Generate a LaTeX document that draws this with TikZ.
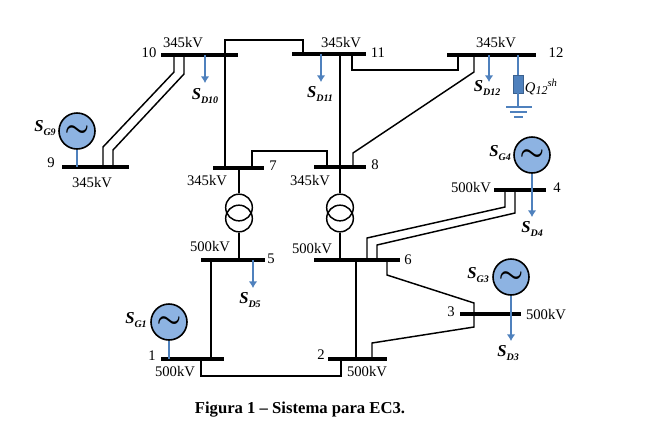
\documentclass[tikz,border=0pt]{standalone}
\usepackage{fontspec}
\setmainfont{Liberation Serif}
\usetikzlibrary{arrows.meta}
\definecolor{loadblue}{HTML}{4F81BD}
\definecolor{genblue}{HTML}{8DB3E2}
\newcommand{\pname}[1]{{\fontsize{12.5}{14}\selectfont\bfseries\itshape S}\raisebox{-2.5pt}{\fontsize{7.5}{9}\selectfont\bfseries\itshape #1}}
\tikzset{
    bus/.style={rectangle,fill=black,inner sep=0pt,minimum height=3pt},
    net/.style={line width=1.1pt,line join=miter},
    feed/.style={line width=1.2pt,color=loadblue},
    gen/.style={circle,draw=black,line width=1.2pt,fill=genblue,inner sep=0pt,minimum size=27pt},
    trafo/.style={circle,draw=black,line width=1.1pt,inner sep=0pt,minimum size=20pt},
    lbl/.style={font=\fontsize{11}{13}\selectfont,inner sep=0pt},
}
\begin{document}
\begin{tikzpicture}[x=0.75pt,y=-0.75pt,>={Latex[length=5pt,width=6.5pt]}]
    \useasboundingbox (0,0) rectangle (648,433);

    % the bars
    \foreach \name/\xa/\xb/\y in {
        b1/161/224/359, b2/328/387/359, b3/460/521/314, b4/494/546/190,
        b5/201/265/260, b6/314/400/260, b7/213/264/168, b8/314/366/167,
        b9/62/129/167, b10/161/238/55, b11/292/366/54, b12/447/536/55}
        \node[bus,minimum width={(\xb-\xa)*0.75pt}] (\name) at ({(\xa+\xb)/2},\y) {};

    % the transformers
    \foreach \name/\x/\y in {t7/239/207.5, t5/239/218.5, t8/340/207.5, t6/340/218.5}
        \node[trafo] (\name) at (\x,\y) {};

    % the generators
    \foreach \name/\x/\y in {g9/77/131, g4/532/155, g3/511/277, g1/169/322}
        \node[gen] (\name) at (\x,\y) {{\huge\boldmath$\sim$}};

    % the lines between the bars
    \draw[net] (174,0 |- b10) -- (174,72) -- (103,147) -- (103,0 |- b9);
    \draw[net] (184,0 |- b10) -- (184,74) -- (113,150) -- (113,0 |- b9);
    \draw[net] (225,0 |- b7) -- (225,40) -- (303,40) -- (303,0 |- b11);
    \draw[net] (252,0 |- b7) -- (252,151) -- (327,151) -- (327,0 |- b8);
    \draw[net] (340,0 |- b11) -- (340,0 |- b8);
    \draw[net] (352,0 |- b11) -- (352,70) -- (458,70) -- (458,0 |- b12);
    \draw[net] (474,0 |- b12) -- (474,72) -- (353,153) -- (353,0 |- b8);
    \draw[net] (211,0 |- b5) -- (211,0 |- b1);
    \draw[net] (201,0 |- b1) -- (201,376) -- (341,376) -- (341,0 |- b2);
    \draw[net] (356,0 |- b6) -- (356,0 |- b2);
    \draw[net] (505,0 |- b4) -- (505,207) -- (367,238) -- (367,0 |- b6);
    \draw[net] (515,0 |- b4) -- (515,213) -- (377,245) -- (377,0 |- b6);
    \draw[net] (387,0 |- b6) -- (387,275) -- (474,303) -- (474,0 |- b3);
    \draw[net] (474,0 |- b3) -- (474,327) -- (372,343) -- (372,0 |- b2);

    % bars to transformers
    \draw[net] (t7 |- b7) -- (t7.north);
    \draw[net] (t5.south) -- (t5 |- b5);
    \draw[net] (t8 |- b8) -- (t8.north);
    \draw[net] (t6.south) -- (t6 |- b6);

    % the loads
    \foreach \name/\bar/\x/\y in {d10/b10/205/83, d11/b11/321/82, d12/b12/489/82,
        d5/b5/253/288, d4/b4/532/217, d3/b3/511/341}{
        \coordinate (\name) at (\x,\y);
        \draw[feed,->] (\name |- \bar) -- (\name);
    }
    % generators to bars
    \draw[feed] (g9.south) -- (g9 |- b9);
    \draw[feed] (g1.south) -- (g1 |- b1);
    \draw[feed] (g4.south) -- (g4 |- b4);
    \draw[feed] (g3.south) -- (g3 |- b3);

    % the shunt at bar 12
    \node[rectangle,draw=loadblue!75!black,fill=loadblue,inner sep=0pt,minimum width=7.5pt,minimum height=13.5pt] (q12) at (518,84) {};
    \coordinate (e1) at (518,107);
    \draw[feed] (q12 |- b12) -- (q12.north);
    \draw[feed] (q12.south) -- (e1);
    \draw[feed] (506,107) -- (532,107);
    \draw[feed] (510,112) -- (527,112);
    \draw[feed] (514,117) -- (523,117);

    % voltages and bar numbers
    \foreach \name/\x/\y/\txt in {
        v10/183/43/345kV, v9/92/183/345kV, v7/207/181/345kV, v8/310/181/345kV,
        v11/341/43/345kV, v12/496/43/345kV, v4/471/188/500kV, v6/312/249/500kV,
        v5/210/247/500kV, v1/175/372/500kV, v2/367/372/500kV, v3/546/315/500kV,
        n1/152/356/1, n2/321/355/2, n3/451/312/3, n4/557/188/4, n5/271/259/5,
        n6/408/260/6, n7/273/166/7, n8/375/165/8, n9/51/163/9, n10/149/53/10,
        n11/378/53/11, n12/556/53/12}
        \node[lbl] (\name) at (\x,\y) {\txt};

    % powers
    \foreach \name/\x/\y/\txt in {
        sg9/45/128/G9, sg4/500/153/G4, sg3/478/275/G3, sg1/136/320/G1,
        sd10/205/96/D10, sd11/320/94/D11, sd12/487/88/D12, sd5/250/300/D5,
        sd4/532/229/D4, sd3/508/353/D3}
        \node[inner sep=0pt] (\name) at (\x,\y) {\pname{\txt}};
    \node[lbl] (q12txt) at (541,87) {\itshape Q\raisebox{-2pt}{\fontsize{9}{9}\selectfont 12}\raisebox{4pt}{\fontsize{8}{8}\selectfont sh}};

    \node[font=\fontsize{12.5}{14}\selectfont\bfseries,inner sep=0pt] (caption) at (300,410) {Figura 1 -- Sistema para EC3.};
\end{tikzpicture}
\end{document}
